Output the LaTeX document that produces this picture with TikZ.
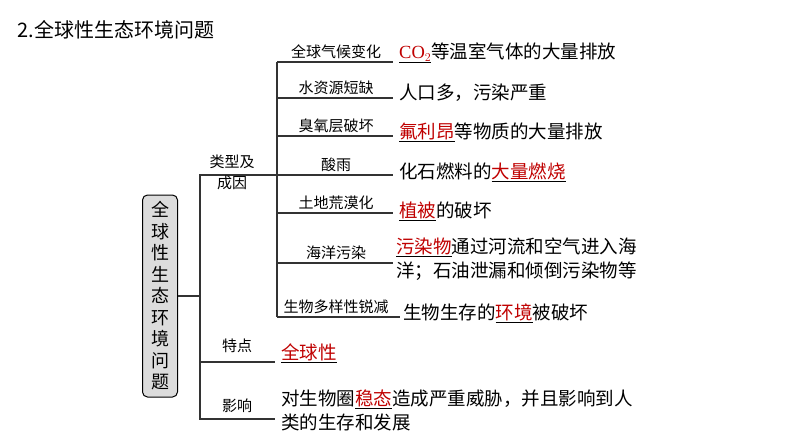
\documentclass[tikz,border=0pt]{standalone}
\usepackage{fontspec}
\setmainfont{Liberation Serif}
\newfontfamily\cjk{Noto Sans CJK SC}
\usetikzlibrary{positioning}
\definecolor{keyred}{RGB}{192,0,0}
\definecolor{boxgray}{RGB}{220,220,220}
\begin{document}
\begin{tikzpicture}[
    x=1pt, y=-1pt,
    font=\cjk,
    % Styles
    branch/.style={% tree lines
        line width=1.2pt, draw=black!80,
        },
    kind/.style={% category names
        font=\cjk\fontsize{15}{17}\selectfont, anchor=south, inner sep=1pt,
        },
    cause/.style={% right hand texts
        font=\cjk\fontsize{18.5}{24}\selectfont, anchor=west, inner sep=1pt, align=left,
        },
    ]
    \useasboundingbox[fill=white] (0,0) rectangle (794,447);

    % Title
    \node[anchor=west, font=\cjk\fontsize{20}{22}\selectfont] (title) at (14,30) {2.全球性生态环境问题};

    % Main box
    \node[draw, line width=1pt, fill=boxgray, rounded corners=5pt, minimum width=35pt,
          minimum height=202pt, align=center, font=\cjk\fontsize{18}{21.5}\selectfont,
          inner sep=2pt] (main) at (160,296) {全\\球\\性\\生\\态\\环\\境\\问\\题};

    % Level one
    \coordinate (j1) at (200,296);
    \coordinate (t1) at (200,175);
    \coordinate (t3) at (200,419);
    \coordinate (e1) at (277,175);
    \coordinate (e2) at (275,362);
    \coordinate (e3) at (275,419);
    \draw[branch] (main) -- (j1);
    \draw[branch] (e1) -- (t1) -- (t3) -- (e3);
    \draw[branch] (200,362) -- (e2);
    \node[kind, align=center, anchor=center] (type) at (232,172) {类型及\\[4pt]成因};
    \node[kind] (trait) at (237,354) {特点};
    \node[kind] (effect) at (237,414) {影响};

    % Level two
    \coordinate (top) at (277,62);
    \coordinate (bot) at (277,317);
    \draw[branch] (top) -- (bot);
    \foreach \y/\w/\k in {62/393/全球气候变化, 98/393/水资源短缺, 136/393/臭氧层破坏,
                          175/393/酸雨, 213/393/土地荒漠化, 263/393/海洋污染, 317/400/生物多样性锐减}{
        \draw[branch] (277,\y) -- (\w,\y);
        \node[kind] at (336,\y-2) {\k};
    }

    % Right hand texts
    \node[cause] (c1) at (398,53) {\underline{\textcolor{keyred}{\rmfamily CO$_2$}}等温室气体的大量排放};
    \node[cause] (c2) at (398,93) {人口多，污染严重};
    \node[cause] (c3) at (398,132) {\underline{\textcolor{keyred}{氟利昂}}等物质的大量排放};
    \node[cause] (c4) at (398,172) {化石燃料的\underline{\textcolor{keyred}{大量燃烧}}};
    \node[cause] (c5) at (398,211) {\underline{\textcolor{keyred}{植被}}的破坏};
    \node[cause] (c6) at (395,259) {\underline{\textcolor{keyred}{污染物}}通过河流和空气进入海\\洋；石油泄漏和倾倒污染物等};
    \node[cause] (c7) at (402,313) {生物生存的\underline{\textcolor{keyred}{环境}}被破坏};
    \node[cause] (c8) at (280,353) {\underline{\textcolor{keyred}{全球性}}};
    \node[cause] (c9) at (280,410) {对生物圈\underline{\textcolor{keyred}{稳态}}造成严重威胁，并且影响到人\\类的生存和发展};
\end{tikzpicture}
\end{document}
